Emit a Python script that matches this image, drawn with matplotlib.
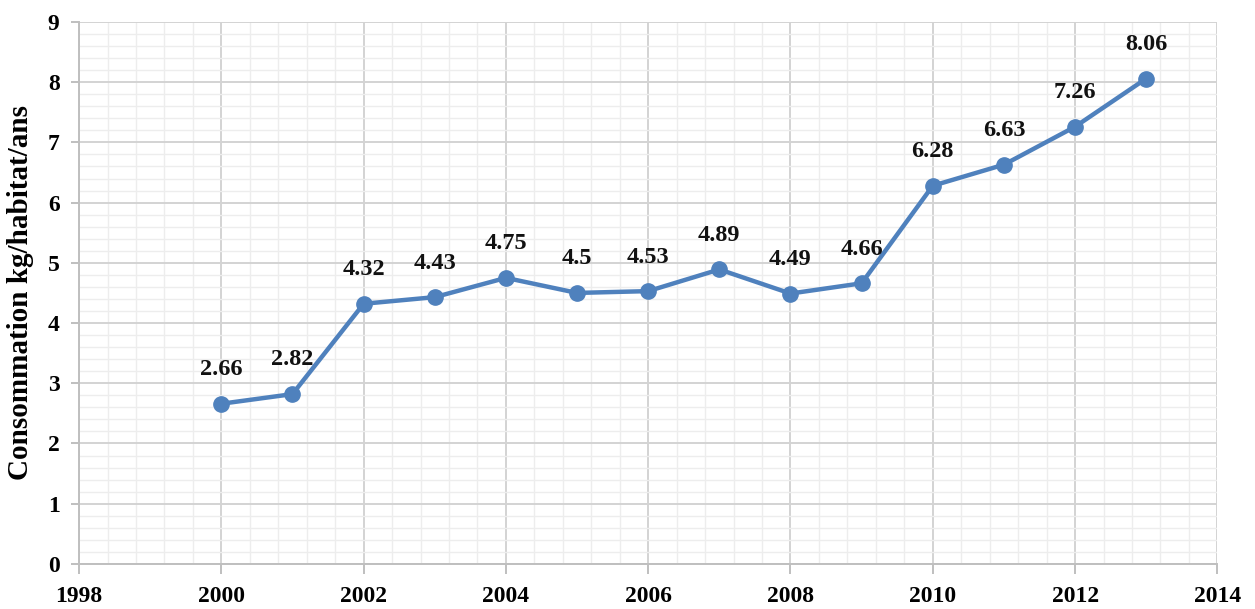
import matplotlib
matplotlib.use("Agg")
import matplotlib.pyplot as plt
from matplotlib.ticker import MultipleLocator

years = [2000, 2001, 2002, 2003, 2004, 2005, 2006, 2007, 2008, 2009, 2010, 2011, 2012, 2013]
conso = [2.66, 2.82, 4.32, 4.43, 4.75, 4.5, 4.53, 4.89, 4.49, 4.66, 6.28, 6.63, 7.26, 8.06]
labels = ["2.66", "2.82", "4.32", "4.43", "4.75", "4.5", "4.53", "4.89", "4.49", "4.66",
          "6.28", "6.63", "7.26", "8.06"]

plt.rcParams['font.family'] = ['Liberation Serif', 'DejaVu Serif']

fig = plt.figure(figsize=(12.55, 6.09), dpi=100)
ax = fig.add_axes([0.063, 0.074, 0.907, 0.89])

ax.plot(years, conso, color='#4f81bd', lw=3.2, marker='o', ms=11, zorder=3)
for x, y, t in zip(years, conso, labels):
    ax.annotate(t, (x, y), xytext=(0, 17), textcoords='offset points',
                ha='center', va='bottom', fontsize=17.5, fontweight='bold', color='#111111')

ax.set_xlim(1998, 2014)
ax.set_ylim(0, 9)
ax.xaxis.set_major_locator(MultipleLocator(2))
ax.xaxis.set_minor_locator(MultipleLocator(0.4))
ax.yaxis.set_major_locator(MultipleLocator(1))
ax.yaxis.set_minor_locator(MultipleLocator(0.2))

ax.grid(which='major', color='#d3d3d3', lw=1.4)
ax.grid(which='minor', color='#ededed', lw=1.0)
ax.set_axisbelow(True)

for s in ['top', 'right']:
    ax.spines[s].set_visible(False)
for s in ['left', 'bottom']:
    ax.spines[s].set_color('#bfbfbf')
    ax.spines[s].set_linewidth(1.4)

ax.tick_params(which='major', axis='x', length=7, color='#bfbfbf', width=1.4,
               labelsize=17, pad=9)
ax.tick_params(which='major', axis='y', length=6, color='#bfbfbf', width=1.4,
               labelsize=17, pad=8)
ax.tick_params(which='minor', length=0)
for lab in ax.get_xticklabels() + ax.get_yticklabels():
    lab.set_fontweight('bold')

ax.set_ylabel('Consommation kg/habitat/ans', fontsize=21, fontweight='bold', labelpad=10)

fig.savefig('out.png', dpi=100)
